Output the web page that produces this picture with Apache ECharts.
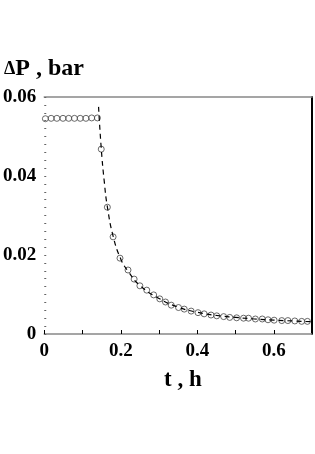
<!DOCTYPE html>
<html><head><meta charset="utf-8">
<script src="https://cdn.jsdelivr.net/npm/echarts@6/dist/echarts.min.js"></script>
<style>html,body{margin:0;padding:0;background:#fff}#c{width:315px;height:454px}</style>
</head><body><div id="c"></div>
<script>
const xTickLabels = ['0', '0.2', '0.4', '0.6'];
const yTickLabels = ['0', '0.02', '0.04', '0.06'];
const measT = [0.003,0.018,0.033,0.049,0.064,0.079,0.094,0.109,0.124,0.139,
  0.149,0.165,0.180,0.198,0.219,0.235,0.250,0.268,0.286,0.302,0.317,0.332,0.351,0.366,0.384,0.402,0.418,0.436,0.451,0.469,0.485,0.503,0.521,0.534,0.552,0.570,0.585,0.601,0.621,0.637,0.655,0.673,0.688];
const measP = [0.0545,0.0546,0.0546,0.0546,0.0546,0.0546,0.0546,0.0546,0.0547,0.0547,
  0.0468,0.0321,0.0246,0.0192,0.0162,0.0139,0.0122,0.0111,0.0099,0.0089,0.0081,0.0073,0.0067,0.0063,0.0058,0.0054,0.0051,0.0048,0.0046,0.0044,0.0042,0.0041,0.0040,0.0040,0.0038,0.0038,0.0036,0.0035,0.0034,0.0034,0.0033,0.0032,0.0032];
const fitT = [0.142,0.149,0.157,0.165,0.180,0.200,0.220,0.250,0.300,0.350,0.400,0.450,0.500,0.550,0.600,0.650,0.700];
const fitP = [0.0575,0.0470,0.0385,0.0322,0.0248,0.0190,0.0158,0.0123,0.0090,0.0068,0.0055,0.0047,0.0042,0.0038,0.0035,0.0033,0.0031];

const font = 'Liberation Serif, Times New Roman, serif';
const chart = echarts.init(document.getElementById('c'));
chart.setOption({
  animation: false,
  backgroundColor: '#fff',
  grid: {left: 41, right: 3, top: 97, bottom: 120},
  graphic: [
    {type: 'text', left: 4, top: 57, style: {text: '{d|Δ}{p|P , bar}', rich: {
      d: {fontFamily: font, fontWeight: 'bold', fontSize: 18, fill: '#000'},
      p: {fontFamily: font, fontWeight: 'bold', fontSize: 24, fill: '#000'}}}},
    {type: 'text', left: 164, top: 369, style: {text: 't , h', fontFamily: font, fontWeight: 'bold', fontSize: 23, fill: '#000'}}
  ],
  xAxis: [{
    type: 'value', min: 0, max: 0.7, interval: 0.1,
    axisLine: {show: true, onZero: false, lineStyle: {color: '#888', width: 1.5}},
    axisTick: {show: true, inside: true, length: 4, lineStyle: {color: '#000', width: 1}},
    splitLine: {show: false},
    axisLabel: {margin: 8, fontFamily: font, fontWeight: 'bold', fontSize: 19, color: '#000',
      formatter: v => { const k = Math.round(v * 10); return k % 2 === 0 ? xTickLabels[k / 2] || '' : ''; }}
  }, {
    type: 'value', position: 'top', min: 0, max: 0.7,
    axisLine: {show: true, onZero: false, lineStyle: {color: '#888', width: 1.5}},
    axisTick: {show: false}, axisLabel: {show: false}, splitLine: {show: false}
  }],
  yAxis: [{
    type: 'value', min: 0, max: 0.06, interval: 0.002,
    axisLine: {show: false, onZero: false},
    axisTick: {show: true, inside: true, length: 2, lineStyle: {color: '#666', width: 1}},
    splitLine: {show: false},
    axisLabel: {margin: 8, fontFamily: font, fontWeight: 'bold', fontSize: 19, color: '#000',
      formatter: v => { const k = Math.round(v * 500); return k % 10 === 0 ? yTickLabels[k / 10] || '' : ''; }}
  }, {
    type: 'value', position: 'right', min: 0, max: 0.06,
    axisLine: {show: true, onZero: false, lineStyle: {color: '#000', width: 2}},
    axisTick: {show: false}, axisLabel: {show: false}, splitLine: {show: false}
  }],
  series: [{
    type: 'line', smooth: true, showSymbol: false, xAxisIndex: 0, yAxisIndex: 0,
    data: fitT.map((t, i) => [t, fitP[i]]),
    lineStyle: {color: '#000', width: 1.2, type: [5, 4]}, z: 3
  }, {
    type: 'scatter', symbol: 'circle', symbolSize: 6, xAxisIndex: 0, yAxisIndex: 0,
    data: measT.map((t, i) => [t, measP[i]]),
    itemStyle: {color: 'rgba(255,255,255,0)', borderColor: '#444', borderWidth: 0.8, opacity: 1}, z: 2
  }]
});
</script></body></html>
